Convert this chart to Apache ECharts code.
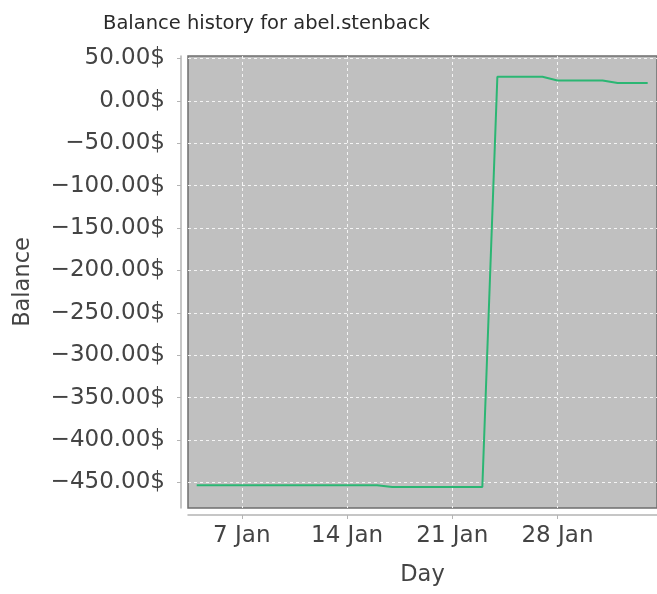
<!DOCTYPE html>
<html>
<head>
<meta charset="utf-8">
<script src="https://cdn.jsdelivr.net/npm/echarts@6/dist/echarts.min.js"></script>
<style>
  html, body { margin: 0; padding: 0; background: #ffffff; }
  #chart { width: 657px; height: 594px; }
</style>
</head>
<body>
<div id="chart"></div>
<script>
// Daily balance of the account
const days = [
  '2011-01-04', '2011-01-05', '2011-01-06', '2011-01-07', '2011-01-08',
  '2011-01-09', '2011-01-10', '2011-01-11', '2011-01-12', '2011-01-13',
  '2011-01-14', '2011-01-15', '2011-01-16', '2011-01-17', '2011-01-18',
  '2011-01-19', '2011-01-20', '2011-01-21', '2011-01-22', '2011-01-23',
  '2011-01-24', '2011-01-25', '2011-01-26', '2011-01-27', '2011-01-28',
  '2011-01-29', '2011-01-30', '2011-01-31', '2011-02-01', '2011-02-02',
  '2011-02-03'
];
const balance = [
  -453.5, -453.5, -453.5, -453.5, -453.5,
  -453.5, -453.5, -453.5, -453.5, -453.5,
  -453.5, -453.5, -453.5, -455.5, -455.5,
  -455.5, -455.5, -455.5, -455.5, -455.5,
  28.5, 28.5, 28.5, 28.5, 24,
  24, 24, 24, 21, 21,
  21
];
// Axis ticks
const yTicks = [-450, -400, -350, -300, -250, -200, -150, -100, -50, 0, 50];
const xTicks = ['2011-01-07', '2011-01-14', '2011-01-21', '2011-01-28'];
const monthNames = ['Jan', 'Feb', 'Mar', 'Apr', 'May', 'Jun', 'Jul', 'Aug', 'Sep', 'Oct', 'Nov', 'Dec'];

const DAY = 86400000;
function toTime(s) {
  const p = s.split('-').map(Number);
  return Date.UTC(p[0], p[1] - 1, p[2]);
}
const seriesData = days.map((d, i) => [toTime(d), balance[i]]);
const xTickTimes = xTicks.map(toTime);

const FONT = 'DejaVu Sans';
const chart = echarts.init(document.getElementById('chart'), null, { renderer: 'canvas' });

chart.setOption({
  animation: false,
  backgroundColor: '#ffffff',
  title: {
    text: 'Balance history for abel.stenback',
    left: 98,
    top: 9,
    textStyle: { fontFamily: FONT, fontSize: 19.5, fontWeight: 'normal', color: '#2a2a2a' }
  },
  grid: {
    left: 188, top: 56, width: 475, height: 452,
    show: true,
    backgroundColor: '#c0c0c0',
    borderColor: '#6e6e6e',
    borderWidth: 1.5,
    containLabel: false
  },
  xAxis: {
    type: 'value',
    min: toTime(days[0]) - 0.58 * DAY,
    max: toTime(days[days.length - 1]) + 0.62 * DAY,
    offset: 7,
    name: 'Day',
    nameLocation: 'middle',
    nameGap: 49,
    nameTextStyle: { fontFamily: FONT, fontSize: 22.5, color: '#444444' },
    axisLine: { show: true, onZero: false, lineStyle: { color: '#b4b4b4', width: 1.5 } },
    axisTick: { show: true, length: 4, customValues: xTickTimes, lineStyle: { color: '#b4b4b4' } },
    axisLabel: {
      customValues: xTickTimes,
      margin: 10,
      fontFamily: FONT, fontSize: 23, color: '#444444',
      formatter: v => { const d = new Date(v); return d.getUTCDate() + ' ' + monthNames[d.getUTCMonth()]; }
    },
    splitLine: { show: true, lineStyle: { color: '#f4f4f4', width: 1, type: [3, 3] } }
  },
  yAxis: {
    type: 'value',
    min: -480.2,
    max: 52.9,
    offset: 7,
    name: 'Balance',
    nameLocation: 'middle',
    nameGap: 146,
    nameRotate: 90,
    nameTextStyle: { fontFamily: FONT, fontSize: 22.5, color: '#444444' },
    axisLine: { show: true, onZero: false, lineStyle: { color: '#b4b4b4', width: 1.5 } },
    axisTick: { show: true, length: 4, customValues: yTicks, lineStyle: { color: '#b4b4b4' } },
    axisLabel: {
      customValues: yTicks,
      margin: 16,
      fontFamily: FONT, fontSize: 23, color: '#444444',
      formatter: v => (v < 0 ? '\u2212' : '') + Math.abs(v).toFixed(2) + '$'
    },
    splitLine: { show: true, lineStyle: { color: '#f4f4f4', width: 1, type: [3, 3] } }
  },
  series: [{
    type: 'line',
    data: seriesData,
    showSymbol: false,
    lineStyle: { color: '#2bb673', width: 2 },
    itemStyle: { color: '#2bb673' }
  }]
});
</script>
</body>
</html>
